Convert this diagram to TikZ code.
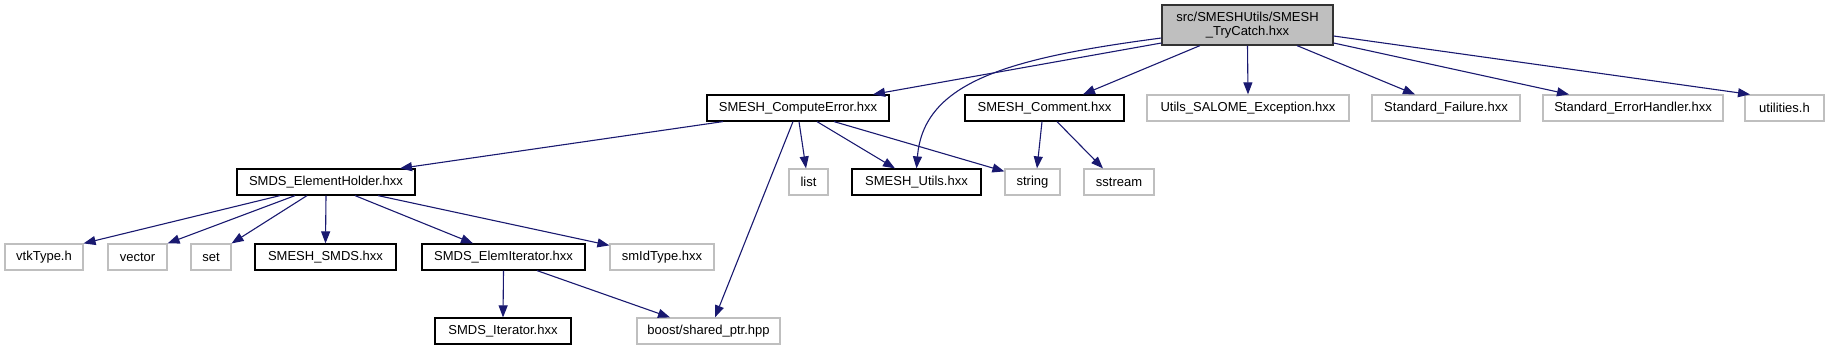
\documentclass[tikz,border=0pt]{standalone}
\usepackage{fontspec}
\setmainfont{Liberation Sans}
\definecolor{edgeblue}{HTML}{191970}
\definecolor{rootgray}{HTML}{BFBFBF}
\definecolor{extgray}{HTML}{BFBFBF}
\usetikzlibrary{arrows.meta}

\begin{document}
\begin{tikzpicture}[
    x=1pt, y=-1pt,
    box/.style={rectangle, draw, line width=1.2pt, minimum height=26pt,
                inner sep=0pt, align=center, font=\fontsize{13}{14.5}\selectfont},
    known/.style={box, draw=black, fill=white},
    ext/.style={box, draw=extgray, fill=white},
    arr/.style={-{Triangle[length=12pt, width=9pt]}, line width=1.1pt, color=edgeblue}
  ]
    \useasboundingbox (0,0) rectangle (1826,351);

    \node[known, fill=rootgray, draw=black!80, minimum width=171pt, minimum height=40pt] (root)
      at (1247.5,25) {src/SMESHUtils/SMESH\\\_TryCatch.hxx};

    \node[known, minimum width=182pt] (compute) at (798,108) {SMESH\_ComputeError.hxx};
    \node[known, minimum width=159pt] (comment) at (1044.5,108) {SMESH\_Comment.hxx};
    \node[ext, minimum width=202pt] (salome) at (1248,108) {Utils\_SALOME\_Exception.hxx};
    \node[ext, minimum width=148pt] (failure) at (1446,108) {Standard\_Failure.hxx};
    \node[ext, minimum width=180pt] (handler) at (1633,108) {Standard\_ErrorHandler.hxx};
    \node[ext, minimum width=79pt] (utilities) at (1784.5,108) {utilities.h};

    \node[known, minimum width=178pt] (holder) at (326,182) {SMDS\_ElementHolder.hxx};
    \node[ext, minimum width=39pt] (list) at (808.5,182) {list};
    \node[known, minimum width=129pt] (utils) at (916.5,182) {SMESH\_Utils.hxx};
    \node[ext, minimum width=55pt] (string) at (1032.5,182) {string};
    \node[ext, minimum width=70pt] (sstream) at (1119,182) {sstream};

    \node[ext, minimum width=78pt] (vtktype) at (44,257) {vtkType.h};
    \node[ext, minimum width=59pt] (vector) at (137.5,257) {vector};
    \node[ext, minimum width=40pt] (set) at (211,257) {set};
    \node[known, minimum width=141pt] (smds) at (325.5,257) {SMESH\_SMDS.hxx};
    \node[known, minimum width=163pt] (elemiter) at (503.5,257) {SMDS\_ElemIterator.hxx};
    \node[ext, minimum width=104pt] (smidtype) at (662,257) {smIdType.hxx};

    \node[known, minimum width=136pt] (iterator) at (503,331) {SMDS\_Iterator.hxx};
    \node[ext, minimum width=143pt] (sharedptr) at (708.5,331) {boost/shared\_ptr.hpp};

    \draw[arr] ([yshift=-18]root.west) -- ([xshift=75]compute.north);
    \draw[arr] ([yshift=-13]root.west) .. controls +(-152,20) and +(7,-87) .. (utils.north);
    \draw[arr] ([xshift=-47.5]root.south) -- ([xshift=38.5]comment.north);
    \draw[arr] (root.south) -- (salome.north);
    \draw[arr] ([xshift=49.5]root.south) -- ([xshift=-31]failure.north);
    \draw[arr] ([yshift=-18]root.east) -- ([xshift=-64]handler.north);
    \draw[arr] ([yshift=-11]root.east) -- ([xshift=-34.5]utilities.north);

    \draw[arr] ([xshift=-75]compute.south) -- ([xshift=74]holder.north);
    \draw[arr] ([xshift=1]compute.south) -- ([xshift=-2.5]list.north);
    \draw[arr] ([xshift=19]compute.south) -- ([xshift=-21.5]utils.north);
    \draw[arr] ([xshift=36]compute.south) -- ([yshift=-3]string.north west);
    \draw[arr] ([xshift=-5]compute.south) -- ([xshift=6.5]sharedptr.north);

    \draw[arr] ([xshift=-2.5]comment.south) -- ([xshift=4.5]string.north);
    \draw[arr] ([xshift=12.5]comment.south) -- ([xshift=-16]sstream.north);

    \draw[arr] ([xshift=-46]holder.south) -- (vtktype.north east);
    \draw[arr] ([xshift=-31]holder.south) -- (vector.north east);
    \draw[arr] ([xshift=-19]holder.south) -- (set.north east);
    \draw[arr] (holder.south) -- (smds.north);
    \draw[arr] ([xshift=29]holder.south) -- ([xshift=-30.5]elemiter.north);
    \draw[arr] ([xshift=52]holder.south) -- ([yshift=-2]smidtype.north west);

    \draw[arr] (elemiter.south) -- (iterator.north);
    \draw[arr] ([xshift=33.5]elemiter.south) -- ([xshift=-38.5]sharedptr.north);
  \end{tikzpicture}
\end{document}
